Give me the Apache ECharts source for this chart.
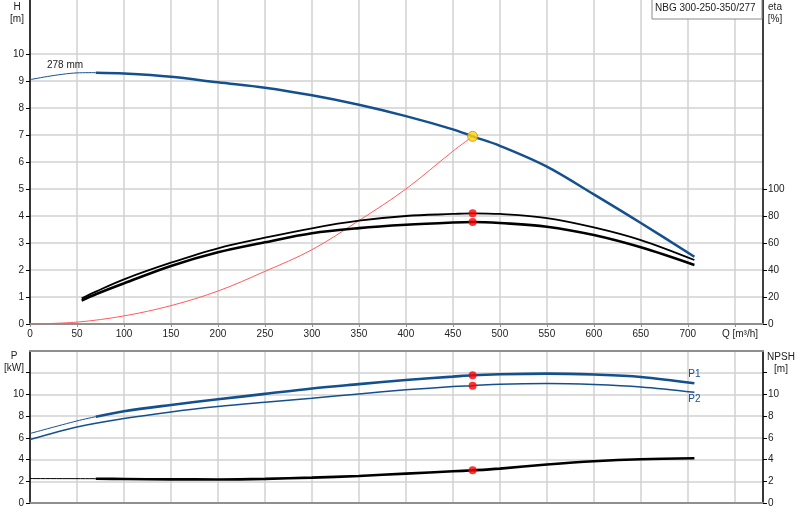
<!DOCTYPE html>
<html>
<head>
<meta charset="utf-8">
<title>NBG 300-250-350/277</title>
<script src="https://cdn.jsdelivr.net/npm/echarts@6/dist/echarts.min.js"></script>
<style>
    html, body { margin: 0; padding: 0; background: #fff; }
    #chart { width: 800px; height: 520px; }
</style>
</head>
<body>
<div id="chart"></div>
<script>
// tick labels
let qLabels = [0, 50, 100, 150, 200, 250, 300, 350, 400, 450, 500, 550, 600, 650, 700];
let hLabels = [0, 1, 2, 3, 4, 5, 6, 7, 8, 9, 10];
let etaLabels = [0, 20, 40, 60, 80, 100];
let pLabels = [0, 2, 4, 6, 8, 10];
let pTicks = [0, 2, 4, 6, 8, 10, 12];

// duty point
let dutyQ = 471;

// head curve 278 mm (thin part outside the operating range)
let hThinQ = [0, 50, 70];
let hThin = [9.05, 9.3, 9.31];
let hQ = [70, 100, 150, 200, 250, 300, 350, 400, 450, 471, 500, 550, 600, 650, 707];
let hVal = [9.31, 9.28, 9.16, 8.95, 8.75, 8.47, 8.12, 7.70, 7.21, 6.95, 6.6, 5.83, 4.8, 3.74, 2.49];

// system curve
let sysQ = [0, 50, 100, 150, 200, 250, 300, 350, 400, 450, 471];
let sysH = [0, 0.07, 0.3, 0.68, 1.22, 1.95, 2.75, 3.83, 5.0, 6.4, 6.95];

// efficiency
let etaQ = [55, 70, 100, 150, 200, 250, 300, 350, 400, 450, 471, 500, 550, 600, 650, 707];
let etaUp = [19, 24, 33.1, 45.4, 56.1, 63.9, 70.9, 76.5, 80, 81.5, 82, 81.5, 78.5, 71.6, 62.2, 47.4];
let etaLo = [17.3, 22, 30.1, 43, 53.1, 60.5, 67.2, 71, 73.5, 75.2, 75.6, 74.8, 72.1, 65.9, 56.8, 43.7];

// power
let p1ThinQ = [0, 50, 70];
let p1Thin = [6.4, 7.56, 7.95];
let p1Q = [70, 100, 150, 200, 250, 300, 350, 400, 450, 471, 500, 550, 600, 650, 707];
let p1Val = [7.95, 8.45, 9.03, 9.55, 10.05, 10.55, 10.95, 11.33, 11.64, 11.77, 11.86, 11.92, 11.83, 11.61, 11.03];
let p2Q = [0, 50, 100, 150, 200, 250, 300, 350, 400, 450, 471, 500, 550, 600, 650, 707];
let p2Val = [5.84, 7.0, 7.78, 8.39, 8.88, 9.28, 9.65, 10.05, 10.42, 10.72, 10.81, 10.94, 11.0, 10.91, 10.69, 10.2];

// NPSH
let npshThinQ = [0, 70];
let npshThin = [2.25, 2.24];
let npshQ = [70, 100, 150, 200, 250, 300, 350, 400, 450, 471, 500, 550, 600, 650, 707];
let npshVal = [2.24, 2.21, 2.18, 2.17, 2.22, 2.34, 2.49, 2.71, 2.92, 3.01, 3.17, 3.54, 3.84, 4.03, 4.12];

let blue = '#15508e';
let font = 'Liberation Sans, Arial, sans-serif';
let gridColor = '#d2d2d2';

function pts(xs, ys){
    return xs.map((x, i) => [x, ys[i]]);
}
function at(xs, ys){
    return ys[xs.indexOf(dutyQ)];
}

function drawCharts(){
    let myChart = echarts.init(document.getElementById('chart'));
    let xBase = {
        type: 'value',
        min: 0,
        max: 780,
        interval: 50,
        axisLine: { onZero: false, lineStyle: { color: '#8f8f8f', width: 2 } },
        axisTick: { show: false },
        splitLine: { lineStyle: { color: gridColor, width: 1.5 } }
    };
    let yBase = {
        type: 'value',
        axisLine: { show: true, onZero: false, lineStyle: { color: '#000', width: 1.5 } },
        axisTick: { show: true, length: 4, lineStyle: { color: '#000' } },
        axisLabel: { fontSize: 10, fontFamily: font, color: '#222', margin: 6 }
    };
    let line = (name, xi, yi, data, color, width) => ({
        name: name,
        type: 'line',
        xAxisIndex: xi,
        yAxisIndex: yi,
        data: data,
        smooth: 0.35,
        symbol: 'none',
        lineStyle: { color: color, width: width },
        z: 3
    });
    let dots = (xi, yi, data) => ({
        type: 'scatter',
        xAxisIndex: xi,
        yAxisIndex: yi,
        data: data,
        symbolSize: 8,
        itemStyle: { color: '#ff0000' },
        z: 6
    });
    let endLabel = (text, q, v, pos, dist) => ({
        symbol: 'circle',
        symbolSize: 1,
        itemStyle: { color: 'rgba(0,0,0,0)' },
        label: { show: true, position: pos, distance: dist, formatter: text, color: blue, fontSize: 10, fontFamily: font },
        data: [{ coord: [q, v] }]
    });
    let txt = (x, y, text, align) => ({
        type: 'text', x: x, y: y, z: 11,
        style: { text: text, textAlign: align || 'center', lineHeight: 12, font: '10px ' + font, fill: '#222' }
    });

    let p1Series = line('P1', 1, 2, pts(p1Q, p1Val), blue, 2.6);
    p1Series.markPoint = endLabel('P1', p1Q[p1Q.length - 1], p1Val[p1Val.length - 1], 'top', 3);
    let p2Series = line('P2', 1, 2, pts(p2Q, p2Val), blue, 1.5);
    p2Series.markPoint = endLabel('P2', p2Q[p2Q.length - 1], p2Val[p2Val.length - 1], 'bottom', 1);

    let option = {
        animation: false,
        grid: [
            { left: 30, right: 37, top: 0, height: 324 },
            { left: 30, right: 37, top: 351, height: 152 }
        ],
        xAxis: [
            Object.assign({}, xBase, {
                gridIndex: 0,
                axisTick: { show: true, length: 3, customValues: qLabels.concat([750]), lineStyle: { color: '#8f8f8f' } },
                axisLabel: { customValues: qLabels, fontSize: 10, fontFamily: font, color: '#222', margin: 5 }
            }),
            Object.assign({}, xBase, { gridIndex: 1, axisLabel: { show: false } }),
            Object.assign({}, xBase, { gridIndex: 1, position: 'top', axisLabel: { show: false }, splitLine: { show: false } })
        ],
        yAxis: [
            Object.assign({}, yBase, {
                gridIndex: 0, min: 0, max: 12, interval: 1,
                axisTick: Object.assign({}, yBase.axisTick, { customValues: hLabels }),
                axisLabel: Object.assign({}, yBase.axisLabel, { customValues: hLabels }),
                splitLine: { lineStyle: { color: gridColor, width: 1.5 } }
            }),
            Object.assign({}, yBase, {
                gridIndex: 0, position: 'right', min: 0, max: 240, interval: 20,
                axisTick: Object.assign({}, yBase.axisTick, { customValues: etaLabels }),
                axisLabel: Object.assign({}, yBase.axisLabel, { customValues: etaLabels, margin: 5 }),
                splitLine: { show: false }
            }),
            Object.assign({}, yBase, {
                gridIndex: 1, min: 0, max: 14, interval: 2,
                axisTick: Object.assign({}, yBase.axisTick, { customValues: pTicks }),
                axisLabel: Object.assign({}, yBase.axisLabel, { customValues: pLabels }),
                splitLine: { lineStyle: { color: gridColor, width: 1.5 } }
            }),
            Object.assign({}, yBase, {
                gridIndex: 1, position: 'right', min: 0, max: 14, interval: 2,
                axisTick: Object.assign({}, yBase.axisTick, { customValues: pTicks }),
                axisLabel: Object.assign({}, yBase.axisLabel, { customValues: pLabels, margin: 5 }),
                splitLine: { show: false }
            })
        ],
        graphic: [
            txt(17, 1, 'H\n[m]'),
            txt(775, 1, 'eta\n[%]'),
            txt(14, 350, 'P\n[kW]'),
            txt(781, 351, 'NPSH\n[m]'),
            txt(740, 328, 'Q [m³/h]'),
            txt(47, 59, '278 mm', 'left'),
            { type: 'rect', shape: { x: 652, y: -1, width: 110, height: 20 }, style: { fill: '#fff', stroke: '#8a8a8a', lineWidth: 1 }, z: 10 },
            txt(655, 2, 'NBG 300-250-350/277', 'left')
        ],
        series: [
            line('system', 0, 0, pts(sysQ, sysH), '#ff5c5c', 1),
            line('H thin', 0, 0, pts(hThinQ, hThin), blue, 1),
            line('H', 0, 0, pts(hQ, hVal), blue, 2.5),
            line('eta', 0, 1, pts(etaQ, etaUp), '#000', 1.8),
            line('eta total', 0, 1, pts(etaQ, etaLo), '#000', 2.6),
            dots(0, 1, [[dutyQ, at(etaQ, etaUp)], [dutyQ, at(etaQ, etaLo)]]),
            {
                type: 'scatter',
                xAxisIndex: 0,
                yAxisIndex: 0,
                data: [[dutyQ, at(hQ, hVal)]],
                symbolSize: 10,
                itemStyle: { color: '#ffd800', borderColor: '#f07030', borderWidth: 1 },
                z: 7
            },
            line('P1 thin', 1, 2, pts(p1ThinQ, p1Thin), blue, 1),
            p1Series,
            p2Series,
            dots(1, 2, [[dutyQ, at(p1Q, p1Val)], [dutyQ, at(p2Q, p2Val)]]),
            line('NPSH thin', 1, 3, pts(npshThinQ, npshThin), '#000', 1),
            line('NPSH', 1, 3, pts(npshQ, npshVal), '#000', 2.6),
            dots(1, 3, [[dutyQ, at(npshQ, npshVal)]])
        ]
    };
    myChart.setOption(option);
}
drawCharts();
</script>
</body>
</html>
